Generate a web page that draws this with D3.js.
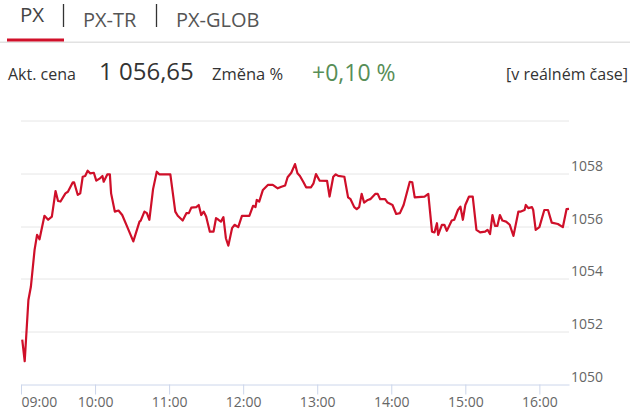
<!DOCTYPE html>
<html>
<head>
<meta charset="utf-8">
<script src="https://d3js.org/d3.v7.min.js"></script>
<style>
  body { margin: 0; background: #fff; }
  svg { display: block; font-family: "Open Sans", sans-serif; }
  .line { fill: none; stroke: #cf0f29; stroke-width: 2.2px; stroke-linejoin: round; }
  .grid line { stroke: #e6e6e6; }
</style>
</head>
<body>
<script>
// záložky a hlavička
var tabs = ["PX", "PX-TR", "PX-GLOB"];
var price = "1 056,65";
var change = "+0,10 %";

// intradenní průběh indexu PX (čas, hodnota)
var times = [
  "09:01","09:03","09:06","09:08","09:11","09:13","09:15","09:19","09:22","09:25",
  "09:28","09:30","09:32","09:36","09:38","09:42","09:43","09:46","09:48","09:50",
  "09:52","09:54","09:56","09:59","10:01","10:04","10:06","10:07","10:10","10:12",
  "10:13","10:16","10:19","10:22","10:26","10:31","10:36","10:37","10:40","10:42",
  "10:44","10:47","10:50","10:52","11:01","11:05","11:07","11:11","11:14","11:16",
  "11:18","11:22","11:24","11:26","11:28","11:30","11:33","11:36","11:38","11:40",
  "11:42","11:44","11:46","11:48","11:51","11:53","11:56","11:59","12:05","12:08",
  "12:10","12:11","12:13","12:16","12:20","12:24","12:28","12:31","12:34","12:36",
  "12:39","12:42","12:44","12:46","12:49","12:51","12:55","12:57","12:59","13:02",
  "13:08","13:10","13:13","13:15","13:17","13:22","13:25","13:27","13:30","13:32",
  "13:34","13:36","13:38","13:41","13:43","13:47","13:49","13:51","13:55","13:57",
  "14:01","14:04","14:07","14:10","14:15","14:17","14:19","14:27","14:30","14:33",
  "14:35","14:37","14:38","14:41","14:43","14:45","14:49","14:51","14:54","14:56",
  "14:58","15:00","15:03","15:06","15:09","15:12","15:16","15:18","15:20","15:22",
  "15:24","15:26","15:28","15:30","15:33","15:36","15:39","15:43","15:45","15:48",
  "15:49","15:51","15:54","15:55","15:57","16:00","16:04","16:07","16:10","16:15",
  "16:19","16:22","16:24"
];
var values = [
  1051.70,1050.88,1053.20,1053.70,1055.10,1055.67,1055.50,1056.39,1056.24,1056.36,
  1057.33,1056.95,1056.93,1057.24,1057.30,1057.66,1057.66,1057.18,1057.24,1057.87,
  1057.90,1058.10,1058.00,1058.02,1057.72,1057.81,1057.90,1057.68,1057.96,1057.96,
  1057.24,1056.55,1056.59,1056.42,1055.98,1055.42,1056.17,1056.21,1056.55,1056.49,
  1056.24,1057.40,1058.06,1057.96,1057.96,1056.55,1056.39,1056.21,1056.49,1056.49,
  1056.70,1056.72,1056.80,1056.42,1056.55,1056.36,1055.79,1055.79,1056.30,1056.24,
  1056.17,1056.34,1055.54,1055.26,1055.92,1056.05,1055.96,1056.39,1056.39,1056.77,
  1056.72,1056.99,1056.93,1057.37,1057.56,1057.56,1057.43,1057.49,1057.54,1057.85,
  1058.02,1058.35,1058.00,1057.90,1057.65,1057.47,1057.47,1057.62,1057.97,1057.72,
  1057.71,1057.12,1057.87,1057.96,1057.90,1057.87,1057.09,1057.02,1056.72,1056.64,
  1056.72,1057.22,1056.89,1056.99,1057.02,1057.22,1057.22,1057.02,1057.02,1056.89,
  1056.80,1056.46,1056.49,1056.80,1057.68,1057.66,1057.09,1057.12,1057.22,1055.79,
  1055.76,1056.11,1055.67,1056.05,1056.05,1055.82,1056.21,1056.24,1056.61,1056.74,
  1056.24,1056.80,1057.12,1057.12,1055.86,1055.76,1055.79,1055.86,1055.70,1056.42,
  1056.01,1056.01,1056.42,1056.21,1056.17,1056.05,1055.63,1056.55,1056.55,1056.61,
  1056.80,1056.68,1056.72,1056.61,1055.86,1055.96,1056.61,1056.61,1056.13,1056.08,
  1055.96,1056.64,1056.65
];
var yTicks = [1050, 1052, 1054, 1056, 1058, 1060];
var xTicks = ["09:00","10:00","11:00","12:00","13:00","14:00","15:00","16:00"];

var parse = d3.timeParse("%H:%M");
var data = times.map(function(t, i) { return {t: parse(t), v: values[i]}; });

var W = 640, H = 414;
var margin = {top: 120.5, right: 71, bottom: 29.5, left: 21};
var width = W - margin.left - margin.right,
    height = H - margin.top - margin.bottom;

var svg = d3.select("body").append("svg")
  .attr("width", W).attr("height", H);

// --- záložky ---
var tabX = [20, 83, 176];
svg.selectAll(".tab").data(tabs).enter().append("text")
  .attr("x", function(d, i) { return tabX[i]; })
  .attr("y", function(d, i) { return i == 0 ? 22 : 26.7; })
  .attr("font-size", function(d, i) { return i == 0 ? 20.5 : 20; })
  .attr("fill", function(d, i) { return i == 0 ? "#444" : "#555"; })
  .text(function(d) { return d; });
[63.5, 156.5].forEach(function(x) {
  svg.append("line").attr("x1", x).attr("x2", x).attr("y1", 4).attr("y2", 27)
    .attr("stroke", "#333").attr("stroke-width", 1.3);
});
svg.append("rect").attr("x", 0).attr("y", 41.5).attr("width", 630).attr("height", 1.5).attr("fill", "#e2e2e2");
svg.append("rect").attr("x", 7).attr("y", 38.5).attr("width", 57).attr("height", 3).attr("fill", "#d1102a");

// --- řádek s cenou ---
svg.append("text").attr("x", 8).attr("y", 80).attr("font-size", 16).attr("fill", "#333").text("Akt. cena");
svg.append("text").attr("x", 99).attr("y", 80).attr("font-size", 24).attr("fill", "#333").text(price);
svg.append("text").attr("x", 212).attr("y", 80).attr("font-size", 16.5).attr("fill", "#333").text("Změna %");
svg.append("text").attr("x", 312).attr("y", 80.5).attr("font-size", 23).attr("fill", "#578e57").text(change);
svg.append("text").attr("x", 628).attr("y", 80).attr("font-size", 16).attr("fill", "#333")
  .attr("text-anchor", "end").text("[v reálném čase]");

// --- graf ---
var g = svg.append("g").attr("transform", "translate(" + margin.left + "," + margin.top + ")");

var x = d3.scaleTime().domain([parse("09:00"), parse("16:24")]).range([0, width]);
var y = d3.scaleLinear().domain([1050, 1060]).range([height, 0]);

// mřížka
g.append("g").attr("class", "grid")
  .selectAll("line").data(yTicks.slice(1)).enter().append("line")
  .attr("x1", 0).attr("x2", width)
  .attr("y1", function(d) { return Math.round(y(d)) + 0.5; })
  .attr("y2", function(d) { return Math.round(y(d)) + 0.5; });

// popisky osy y (vpravo, nad čarou)
g.selectAll(".ylab").data(yTicks.slice(0, -1)).enter().append("text")
  .attr("x", width + 2).attr("y", function(d) { return y(d) - 2.5; })
  .attr("font-size", 14).attr("fill", "#666")
  .text(function(d) { return d; });

// osa x
var xAxis = d3.axisBottom(x)
  .tickValues(xTicks.map(parse))
  .tickFormat(d3.timeFormat("%H:%M"))
  .tickSize(10).tickSizeOuter(0);
var ax = g.append("g").attr("transform", "translate(0," + height + ")").call(xAxis);
ax.select(".domain").attr("stroke", "#ccd6eb");
ax.selectAll(".tick line").attr("stroke", "#ccd6eb");
ax.selectAll(".tick text").attr("font-size", 14).attr("fill", "#666")
  .attr("font-family", "Open Sans").attr("dy", null).attr("y", 22.5);
ax.selectAll(".tick text").filter(function(d, i) { return i == 0; }).attr("text-anchor", "start");

// křivka
var line = d3.line().x(function(d) { return x(d.t); }).y(function(d) { return y(d.v); });
g.append("path").datum(data).attr("class", "line").attr("d", line);
</script>
</body>
</html>
